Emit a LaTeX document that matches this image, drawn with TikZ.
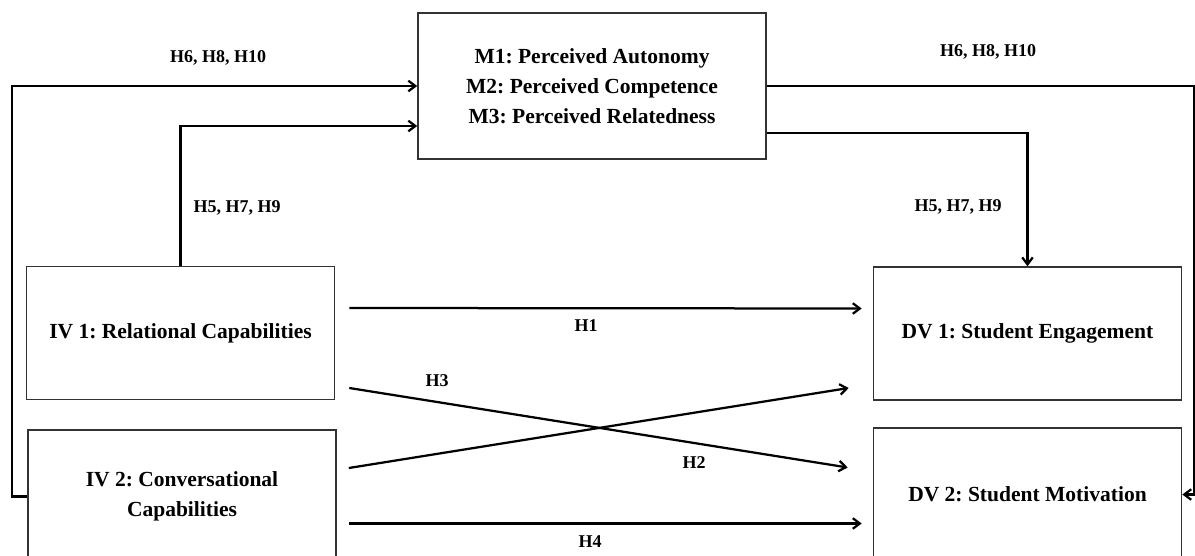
\documentclass[tikz,border=0pt]{standalone}
\usepackage{fontspec}
\setmainfont{Liberation Serif}
\usetikzlibrary{arrows.meta}
\frenchspacing

\tikzset{
  varbox/.style={draw=black!80, line width=1.1pt, minimum width=7.7cm,
    minimum height=3.32cm, align=center,
    font=\fontsize{15.3}{21.3}\selectfont\bfseries},
  conn/.style={line width=1.6pt, -{Straight Barb[length=5pt,width=7.5pt]}},
  hlabel/.style={font=\fontsize{12.8}{15}\selectfont\bfseries},
}

\begin{document}
\begin{tikzpicture}[x=0.025cm, y=-0.025cm]
  \useasboundingbox (0,0) rectangle (1195,556);

  % boxes
  \node[varbox, minimum width=8.7cm, minimum height=3.65cm] (m) at (592,86)
    {M1: Perceived Autonomy\\M2: Perceived Competence\\M3: Perceived Relatedness};
  \node[varbox] (iva) at (180.5,333) {IV 1: Relational Capabilities};
  \node[varbox] (ivb) at (182,496.5) {IV 2: Conversational\\Capabilities};
  \node[varbox] (dva) at (1027.5,333.5) {DV 1: Student Engagement};
  \node[varbox] (dvb) at (1027.5,494.5) {DV 2: Student Motivation};

  \coordinate (lft) at (12,0);
  \coordinate (rgt) at (1194,0);

  % mediation paths
  \draw[conn] (ivb.west) -- (ivb.west -| lft) |- (m.west);
  \draw[conn] (iva.north) |- ([yshift=-1cm]m.west);
  \draw[conn] ([yshift=-1.175cm]m.east) -| (dva.north);
  \draw[conn] (m.east) -| (rgt |- dvb.east) -- (dvb.east);

  % direct paths
  \draw[conn] ([shift={(14,-25)}]iva.east) -- ([shift={(-11,-25)}]dva.west);
  \draw[conn] ([shift={(14,55)}]iva.east) -- ([shift={(-25,-27)}]dvb.west);
  \draw[conn] ([shift={(12,-28.5)}]ivb.east) -- ([shift={(-24,54.5)}]dva.west);
  \draw[conn] ([shift={(12,27)}]ivb.east) -- ([shift={(-11,29)}]dvb.west);

  % labels
  \node[hlabel] (la) at (218,58) {H6, H8, H10};
  \node[hlabel] (lb) at (988,52) {H6, H8, H10};
  \node[hlabel] (lc) at (237,208) {H5, H7, H9};
  \node[hlabel] (ld) at (958,207) {H5, H7, H9};
  \node[hlabel] (h1) at (586,326) {H1};
  \node[hlabel] (h3) at (437,381) {H3};
  \node[hlabel] (h2) at (694,463) {H2};
  \node[hlabel] (h4) at (590,542) {H4};
\end{tikzpicture}
\end{document}
